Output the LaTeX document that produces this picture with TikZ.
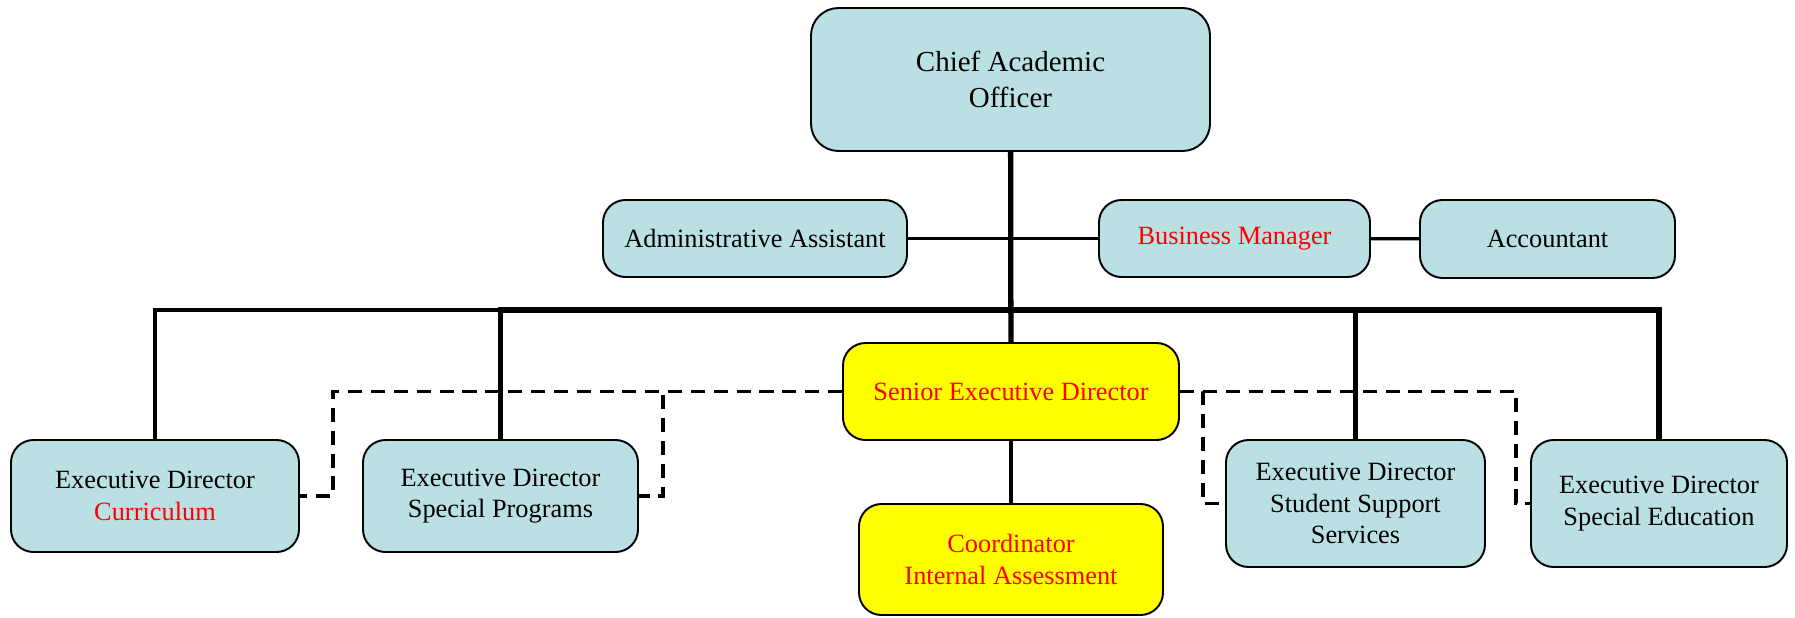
\documentclass[tikz,border=0pt]{standalone}
\usepackage{fontspec}
\setmainfont{Liberation Serif}
\usepackage[svgnames]{xcolor}
\usepackage{tikz}
\definecolor{staffblue}{RGB}{186,224,227}
\definecolor{leadyellow}{RGB}{255,255,0}
\definecolor{note}{RGB}{255,0,0}
\tikzset{
  org box/.style={draw,line width=1.1pt,rounded corners=4.5mm,fill=staffblue,
    align=center,inner sep=0pt,font=\fontsize{15}{18}\selectfont},
  lead box/.style={org box,fill=leadyellow,text=note},
  box size/.style 2 args={minimum width=#1cm,minimum height=#2cm},
  staff link/.style={line width=2pt,dash pattern=on 8pt off 5pt},
  solid link/.style={line width=1.8pt},
}

\begin{document}
\begin{tikzpicture}
\useasboundingbox (0,0) rectangle (35.9,12.34);
\node[org box, box size={7.98}{2.86}, rounded corners=5.5mm,
  font=\fontsize{16.5}{20}\selectfont] (chief) at (20.21,10.75) {Chief Academic\\Officer};
\node[org box, box size={6.08}{1.54}] (admin) at (15.10,7.57) {Administrative Assistant};
\node[org box, box size={5.42}{1.54}, text=note] (business) at (24.69,7.57) {Business Manager};
\node[org box, box size={5.10}{1.56}] (accountant) at (30.95,7.56) {Accountant};
\node[lead box, box size={6.72}{1.94}] (senior) at (20.22,4.51) {Senior Executive Director};
\node[lead box, box size={6.08}{2.22}] (coord) at (20.22,1.15) {Coordinator\\Internal Assessment};
\node[org box, box size={5.76}{2.24}] (curric) at (3.10,2.42) {Executive Director\\\textcolor{note}{Curriculum}};
\node[org box, box size={5.50}{2.24}] (specprog) at (10.01,2.42) {Executive Director\\Special Programs};
\node[org box, box size={5.18}{2.54}] (studsupp) at (27.11,2.27) {Executive Director\\Student Support\\Services};
\node[org box, box size={5.12}{2.54}] (speced) at (33.18,2.27) {Executive Director\\Special Education};

\coordinate (bus) at (20.22,6.14);
\draw[line width=3pt] (chief) -- (senior);
\draw[line width=2.3pt, line cap=rect] (curric.north |- bus) -- (specprog.north |- bus);
\draw[line width=3.4pt, line cap=rect] (specprog.north |- bus) -- (speced.north |- bus);
\foreach \n/\w in {curric/2pt, specprog/3pt, studsupp/3pt, speced/3pt}
{
  \draw[line width=\w] (\n) -- (\n |- bus);
}
\draw[solid link] (admin) -- (admin -| chief) -- (business);
\draw[solid link] (business) -- (accountant);
\draw[solid link] (senior) -- (coord);
\foreach \n/\d in {curric/6.6mm, specprog/4.8mm}
{
  \draw[staff link] (senior.west) -| ([xshift=\d]\n.east) -- (\n.east);
}
\foreach \n/\d in {studsupp/4.4mm, speced/2.8mm}
{
  \draw[staff link] (senior.east) -| ([xshift=-\d]\n.west) -- (\n.west);
}
\end{tikzpicture}
\end{document}
